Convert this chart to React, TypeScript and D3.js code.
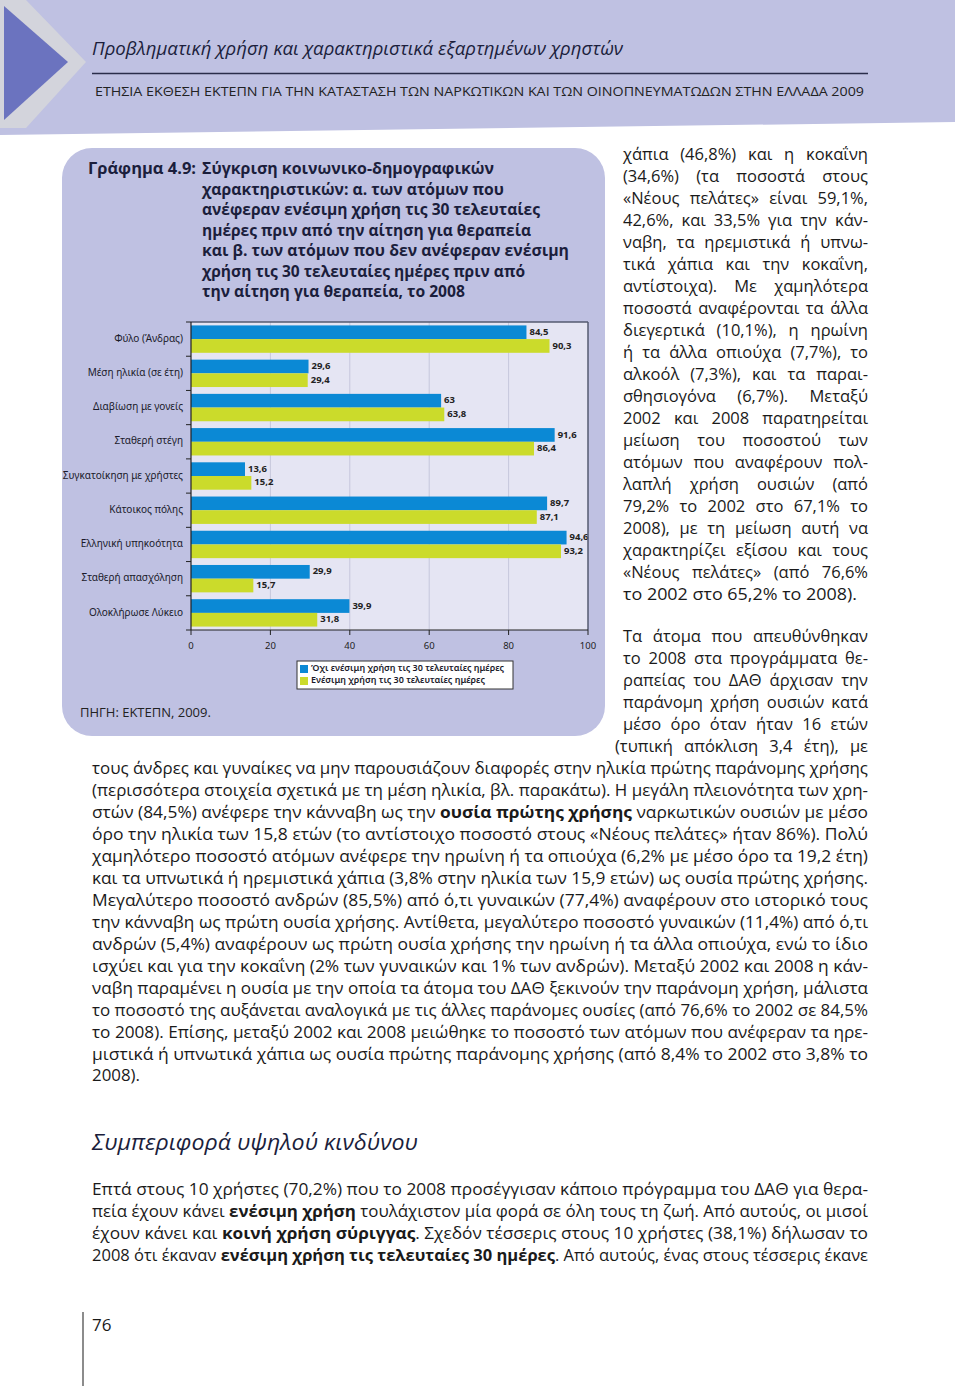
import React, { useEffect, useRef } from "react";
import * as d3 from "d3";

const categories = [
  "Φύλο (Άνδρας)",
  "Μέση ηλικία (σε έτη)",
  "Διαβίωση με γονείς",
  "Σταθερή στέγη",
  "Συγκατοίκηση με χρήστες",
  "Κάτοικος πόλης",
  "Ελληνική υπηκοότητα",
  "Σταθερή απασχόληση",
  "Ολοκλήρωσε Λύκειο",
];
const notInjecting = [84.5, 29.6, 63, 91.6, 13.6, 89.7, 94.6, 29.9, 39.9];
const injecting = [90.3, 29.4, 63.8, 86.4, 15.2, 87.1, 93.2, 15.7, 31.8];
const xTicks = [0, 20, 40, 60, 80, 100];
const seriesNames = [
  "Όχι ενέσιμη χρήση τις 30 τελευταίες ημέρες",
  "Ενέσιμη χρήση τις 30 τελευταίες ημέρες",
];

const titleLines = [
  "Σύγκριση κοινωνικο-δημογραφικών",
  "χαρακτηριστικών: α. των ατόμων που",
  "ανέφεραν ενέσιμη χρήση τις 30 τελευταίες",
  "ημέρες πριν από την αίτηση για θεραπεία",
  "και β. των ατόμων που δεν ανέφεραν ενέσιμη",
  "χρήση τις 30 τελευταίες ημέρες πριν από",
  "την αίτηση για θεραπεία, το 2008",
];
const titleWidths = [292, 302, 338, 329, 367, 323, 263];

const rightLines = [
  "χάπια (46,8%) και η κοκαΐνη",
  "(34,6%) (τα ποσοστά στους",
  "«Νέους πελάτες» είναι 59,1%,",
  "42,6%, και 33,5% για την κάν-",
  "ναβη, τα ηρεμιστικά ή υπνω-",
  "τικά χάπια και την κοκαΐνη,",
  "αντίστοιχα). Με χαμηλότερα",
  "ποσοστά αναφέρονται τα άλλα",
  "διεγερτικά (10,1%), η ηρωίνη",
  "ή τα άλλα οπιούχα (7,7%), το",
  "αλκοόλ (7,3%), και τα παραι-",
  "σθησιογόνα (6,7%). Μεταξύ",
  "2002 και 2008 παρατηρείται",
  "μείωση του ποσοστού των",
  "ατόμων που αναφέρουν πολ-",
  "λαπλή χρήση ουσιών (από",
  "79,2% το 2002 στο 67,1% το",
  "2008), με τη μείωση αυτή να",
  "χαρακτηρίζει εξίσου και τους",
  "«Νέους πελάτες» (από 76,6%",
  "το 2002 στο 65,2% το 2008).",
];
const rightLines2 = [
  "Τα άτομα που απευθύνθηκαν",
  "το 2008 στα προγράμματα θε-",
  "ραπείας του ΔΑΘ άρχισαν την",
  "παράνομη χρήση ουσιών κατά",
  "μέσο όρο όταν ήταν 16 ετών",
];
const rightLast = "(τυπική απόκλιση 3,4 έτη), με";

const bodyLines = [
  "τους άνδρες και γυναίκες να μην παρουσιάζουν διαφορές στην ηλικία πρώτης παράνομης χρήσης",
  "(περισσότερα στοιχεία σχετικά με τη μέση ηλικία, βλ. παρακάτω). Η μεγάλη πλειονότητα των χρη-",
  "στών (84,5%) ανέφερε την κάνναβη ως την **ουσία πρώτης χρήσης** ναρκωτικών ουσιών με μέσο",
  "όρο την ηλικία των 15,8 ετών (το αντίστοιχο ποσοστό στους «Νέους πελάτες» ήταν 86%). Πολύ",
  "χαμηλότερο ποσοστό ατόμων ανέφερε την ηρωίνη ή τα οπιούχα (6,2% με μέσο όρο τα 19,2 έτη)",
  "και τα υπνωτικά ή ηρεμιστικά χάπια (3,8% στην ηλικία των 15,9 ετών) ως ουσία πρώτης χρήσης.",
  "Μεγαλύτερο ποσοστό ανδρών (85,5%) από ό,τι γυναικών (77,4%) αναφέρουν στο ιστορικό τους",
  "την κάνναβη ως πρώτη ουσία χρήσης. Αντίθετα, μεγαλύτερο ποσοστό γυναικών (11,4%) από ό,τι",
  "ανδρών (5,4%) αναφέρουν ως πρώτη ουσία χρήσης την ηρωίνη ή τα άλλα οπιούχα, ενώ το ίδιο",
  "ισχύει και για την κοκαΐνη (2% των γυναικών και 1% των ανδρών). Μεταξύ 2002 και 2008 η κάν-",
  "ναβη παραμένει η ουσία με την οποία τα άτομα του ΔΑΘ ξεκινούν την παράνομη χρήση, μάλιστα",
  "το ποσοστό της αυξάνεται αναλογικά με τις άλλες παράνομες ουσίες (από 76,6% το 2002 σε 84,5%",
  "το 2008). Επίσης, μεταξύ 2002 και 2008 μειώθηκε το ποσοστό των ατόμων που ανέφεραν τα ηρε-",
  "μιστικά ή υπνωτικά χάπια ως ουσία πρώτης παράνομης χρήσης (από 8,4% το 2002 στο 3,8% το",
];
const bodyLast = "2008).";

const riskLines = [
  "Επτά στους 10 χρήστες (70,2%) που το 2008 προσέγγισαν κάποιο πρόγραμμα του ΔΑΘ για θερα-",
  "πεία έχουν κάνει **ενέσιμη χρήση** τουλάχιστον μία φορά σε όλη τους τη ζωή. Από αυτούς, οι μισοί",
  "έχουν κάνει και **κοινή χρήση σύριγγας**. Σχεδόν τέσσερις στους 10 χρήστες (38,1%) δήλωσαν το",
  "2008 ότι έκαναν **ενέσιμη χρήση τις τελευταίες 30 ημέρες**. Από αυτούς, ένας στους τέσσερις έκανε",
];

const fmt = (v: number) => String(v).replace(".", ",");

const BLUE = "#0b89d5";
const GREEN = "#cbdb2b";
const NAVY = "#1b1e3c";
const LAV = "#bfc1e2";

function Rich({ s }: { s: string }) {
  const parts = s.split("**");
  return (
    <>
      {parts.map((p, i) =>
        i % 2 === 1 ? (
          <tspan key={i} fontWeight="bold">
            {p}
          </tspan>
        ) : (
          <React.Fragment key={i}>{p}</React.Fragment>
        )
      )}
    </>
  );
}

export default function App() {
  const ref = useRef<SVGSVGElement>(null);

  useEffect(() => {
    document.body.style.margin = "0";
    const svg = d3.select(ref.current);
    svg.selectAll<SVGTextElement, unknown>("text[data-w]").each(function () {
      const el = this as SVGTextElement;
      const target = +(el.getAttribute("data-w") || 0);
      const mode = el.getAttribute("data-mode") || "justify";
      el.removeAttribute("textLength");
      el.style.wordSpacing = "0px";
      const w = el.getComputedTextLength();
      const n = ((el.textContent || "").match(/ /g) || []).length;
      if (mode === "justify" && w < target && n > 0) {
        el.style.wordSpacing = (target - w) / n + "px";
        const w2 = el.getComputedTextLength();
        if (Math.abs(w2 - target) > 2) {
          el.style.wordSpacing = "0px";
          el.setAttribute("textLength", String(target));
          el.setAttribute("lengthAdjust", "spacing");
        }
      } else {
        el.setAttribute("textLength", String(target));
        el.setAttribute("lengthAdjust", "spacingAndGlyphs");
      }
    });
  }, []);

  const x = d3.scaleLinear().domain([0, 100]).range([191, 588]);
  const y = d3
    .scaleBand<string>()
    .domain(categories)
    .range([322, 630])
    .paddingInner(0.2)
    .paddingOuter(0.1);
  const sub = d3
    .scaleBand<string>()
    .domain(["a", "b"])
    .range([0, y.bandwidth()]);
  const step = y.step();
  const [x0, x1] = x.range();
  const [yTop, yBot] = y.range();

  const chartFont = "'Noto Sans', 'Open Sans', sans-serif";
  const textFont = "'Open Sans', 'Noto Sans', sans-serif";
  const bodySize = 16.5;

  return (
    <svg
      ref={ref}
      width={960}
      height={1388}
      style={{ position: "absolute", left: 0, top: 0, background: "#fff" }}
    >
      {/* Header band */}
      <polygon points="0,0 955,0 955,122 0,135" fill={LAV} />
      <polygon points="0,0 26,0 86,62 26,128 0,128" fill="#d3d4dc" />
      <polygon points="4,6 68,62 4,120" fill="#6b73bf" />
      <text
        x={92}
        y={50}
        fontFamily={textFont}
        fontStyle="italic"
        fontSize={18}
        fill={NAVY}
        dominantBaseline="middle"
        data-w={531}
        data-mode="fit"
      >
        Προβληματική χρήση και χαρακτηριστικά εξαρτημένων χρηστών
      </text>
      <line x1={92} x2={868} y1={73.5} y2={73.5} stroke="#2a2d4a" strokeWidth={1.5} />
      <text
        x={95}
        y={93}
        fontFamily={textFont}
        fontSize={12.5}
        fill="#222"
        dominantBaseline="middle"
        data-w={769}
        data-mode="fit"
      >
        ΕΤΗΣΙΑ ΕΚΘΕΣΗ ΕΚΤΕΠΝ ΓΙΑ ΤΗΝ ΚΑΤΑΣΤΑΣΗ ΤΩΝ ΝΑΡΚΩΤΙΚΩΝ ΚΑΙ ΤΩΝ ΟΙΝΟΠΝΕΥΜΑΤΩΔΩΝ ΣΤΗΝ ΕΛΛΑΔΑ 2009
      </text>

      {/* Chart panel */}
      <rect x={62} y={148} width={543} height={588} rx={30} ry={30} fill={LAV} />
      <text
        x={88}
        y={170}
        fontFamily={textFont}
        fontWeight="bold"
        fontSize={15.5}
        fill={NAVY}
        dominantBaseline="middle"
        data-w={108}
        data-mode="fit"
      >
        Γράφημα 4.9:
      </text>
      {titleLines.map((t, i) => (
        <text
          key={i}
          x={202}
          y={170 + i * 20.5}
          fontFamily={textFont}
          fontWeight="bold"
          fontSize={15.5}
          fill={NAVY}
          dominantBaseline="middle"
          data-w={titleWidths[i]}
          data-mode="fit"
        >
          {t}
        </text>
      ))}

      {/* Plot area */}
      <rect x={x0} y={yTop} width={x1 - x0} height={yBot - yTop} fill="#e5e5f3" />
      {xTicks.slice(1, -1).map((t) => (
        <line key={t} x1={x(t)} x2={x(t)} y1={yTop} y2={yBot} stroke="#c6c7dc" strokeWidth={1} />
      ))}
      {categories.map((c, i) => (
        <g key={c}>
          <rect
            x={x0}
            y={(y(c) as number) + (sub("a") as number)}
            width={x(notInjecting[i]) - x0}
            height={sub.bandwidth()}
            fill={BLUE}
          />
          <rect
            x={x0}
            y={(y(c) as number) + (sub("b") as number)}
            width={x(injecting[i]) - x0}
            height={sub.bandwidth()}
            fill={GREEN}
          />
          <text
            x={x(notInjecting[i]) + 3}
            y={(y(c) as number) + (sub("a") as number) + sub.bandwidth() / 2}
            fontFamily={chartFont}
            fontWeight="bold"
            fontSize={9.5}
            fill="#222"
            dominantBaseline="middle"
          >
            {fmt(notInjecting[i])}
          </text>
          <text
            x={x(injecting[i]) + 3}
            y={(y(c) as number) + (sub("b") as number) + sub.bandwidth() / 2}
            fontFamily={chartFont}
            fontWeight="bold"
            fontSize={9.5}
            fill="#222"
            dominantBaseline="middle"
          >
            {fmt(injecting[i])}
          </text>
          <text
            x={183}
            y={(y(c) as number) + y.bandwidth() / 2}
            textAnchor="end"
            fontFamily={chartFont}
            fontSize={10}
            fill="#1a1a2a"
            dominantBaseline="middle"
          >
            {c}
          </text>
        </g>
      ))}
      {/* plot frame */}
      <line x1={x0} x2={x1} y1={yTop} y2={yTop} stroke="#555a70" strokeWidth={1.5} />
      <line x1={x1} x2={x1} y1={yTop} y2={yBot} stroke="#555a70" strokeWidth={1.5} />
      <line x1={x0} x2={x0} y1={yTop} y2={yBot} stroke="#222" strokeWidth={1.2} />
      <line x1={x0} x2={x1} y1={yBot} y2={yBot} stroke="#222" strokeWidth={1.2} />
      {d3.range(categories.length + 1).map((k) => (
        <line
          key={k}
          x1={x0 - 5}
          x2={x0}
          y1={yTop + k * step}
          y2={yTop + k * step}
          stroke="#222"
          strokeWidth={1}
        />
      ))}
      {xTicks.map((t) => (
        <g key={t}>
          <line x1={x(t)} x2={x(t)} y1={yBot} y2={yBot + 5} stroke="#222" strokeWidth={1} />
          <text
            x={x(t)}
            y={646}
            textAnchor="middle"
            fontFamily={chartFont}
            fontSize={9.5}
            fill="#222"
            dominantBaseline="middle"
          >
            {t}
          </text>
        </g>
      ))}

      {/* Legend */}
      <rect x={297} y={661} width={216} height={28} fill="#fff" stroke="#333" strokeWidth={1} />
      {seriesNames.map((s, i) => (
        <g key={s}>
          <rect x={300} y={665 + i * 12} width={8} height={8} fill={i === 0 ? BLUE : GREEN} />
          <text
            x={311}
            y={669 + i * 12}
            fontFamily={chartFont}
            fontWeight={600}
            fontSize={9}
            fill="#1a1a2a"
            dominantBaseline="middle"
          >
            {s}
          </text>
        </g>
      ))}
      <text
        x={80}
        y={714}
        fontFamily={textFont}
        fontSize={13}
        fill="#222"
        dominantBaseline="middle"
      >
        ΠΗΓΗ: ΕΚΤΕΠΝ, 2009.
      </text>

      {/* Right column text */}
      {rightLines.map((t, i) => (
        <text
          key={i}
          x={623}
          y={156 + i * 22}
          fontFamily={textFont}
          fontSize={bodySize}
          fill="#1a1a1a"
          dominantBaseline="middle"
          data-w={i === rightLines.length - 1 ? 234 : 245}
          data-mode={i === rightLines.length - 1 ? "fit" : "justify"}
        >
          {t}
        </text>
      ))}
      {rightLines2.map((t, i) => (
        <text
          key={i}
          x={623}
          y={638 + i * 22}
          fontFamily={textFont}
          fontSize={bodySize}
          fill="#1a1a1a"
          dominantBaseline="middle"
          data-w={245}
        >
          {t}
        </text>
      ))}
      <text
        x={615}
        y={748}
        fontFamily={textFont}
        fontSize={bodySize}
        fill="#1a1a1a"
        dominantBaseline="middle"
        data-w={253}
      >
        {rightLast}
      </text>

      {/* Body text */}
      {bodyLines.map((t, i) => (
        <text
          key={i}
          x={92}
          y={770 + i * 21.93}
          fontFamily={textFont}
          fontSize={bodySize}
          fill="#1a1a1a"
          dominantBaseline="middle"
          data-w={776}
          data-mode="fit"
        >
          <Rich s={t} />
        </text>
      ))}
      <text
        x={92}
        y={770 + bodyLines.length * 21.93}
        fontFamily={textFont}
        fontSize={bodySize}
        fill="#1a1a1a"
        dominantBaseline="middle"
        data-w={48}
        data-mode="fit"
      >
        {bodyLast}
      </text>

      <text
        x={92}
        y={1144}
        fontFamily={textFont}
        fontStyle="italic"
        fontSize={21}
        fill={NAVY}
        dominantBaseline="middle"
        data-w={326}
        data-mode="fit"
      >
        Συμπεριφορά υψηλού κινδύνου
      </text>
      {riskLines.map((t, i) => (
        <text
          key={i}
          x={92}
          y={1191 + i * 22}
          fontFamily={textFont}
          fontSize={bodySize}
          fill="#1a1a1a"
          dominantBaseline="middle"
          data-w={776}
          data-mode="fit"
        >
          <Rich s={t} />
        </text>
      ))}

      {/* Page number */}
      <line x1={83} x2={83} y1={1312} y2={1386} stroke="#666" strokeWidth={1.5} />
      <text x={92} y={1326} fontFamily={textFont} fontSize={17} fill="#1a1a1a" dominantBaseline="middle">
        76
      </text>
    </svg>
  );
}
